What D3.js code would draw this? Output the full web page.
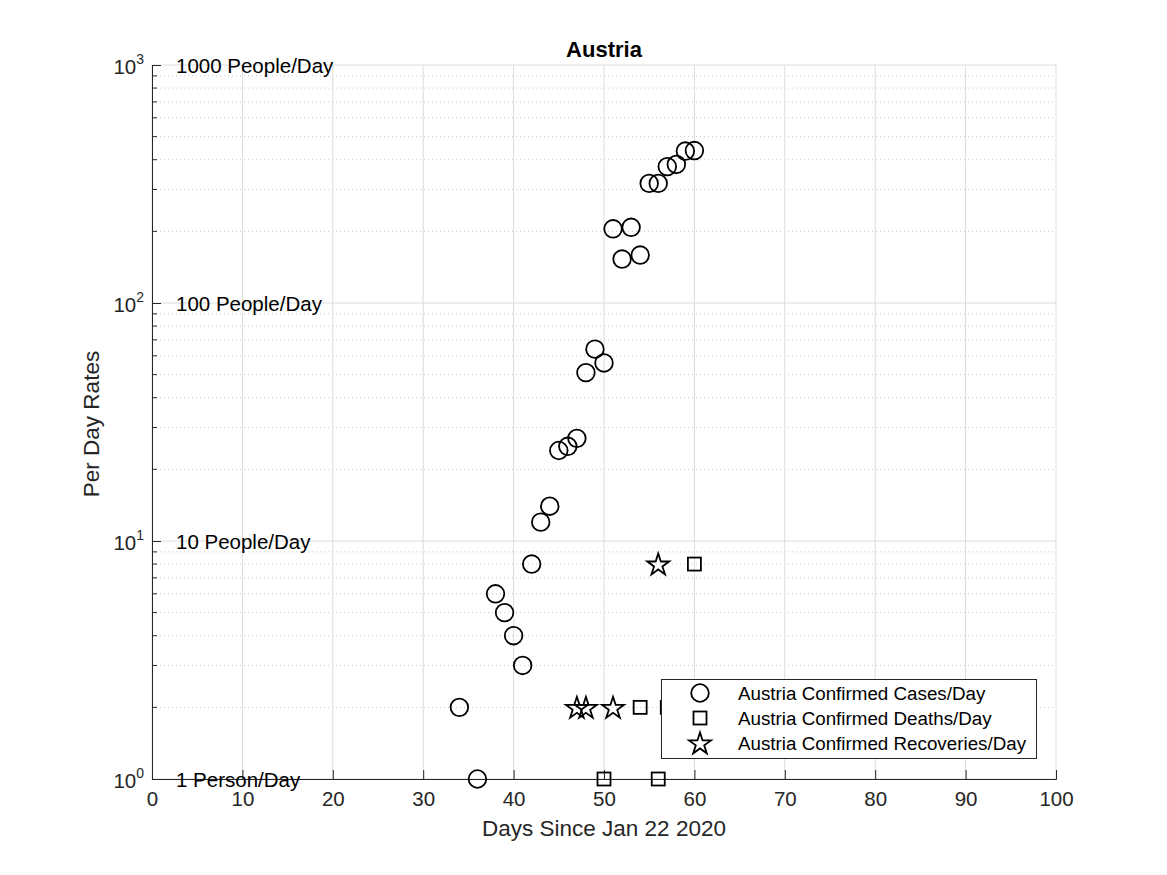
<!DOCTYPE html>
<html><head><meta charset="utf-8">
<script src="https://cdn.jsdelivr.net/npm/d3@7"></script>
<style>body{margin:0;background:#fff;} text{font-family:"Liberation Sans",Arial,Helvetica,sans-serif;}</style>
</head><body>
<svg id="c" width="1167" height="875"></svg>
<script>
const casesDays = [34,36,38,39,40,41,42,43,44,45,46,47,48,49,50,51,52,53,54,55,56,57,58,59,60];
const casesVals = [2,1,6,5,4,3,8,12,14,24,25,27,51,64,56,205,153,208,159,318,318,374,382,435,437];
const deathsDays = [50,54,56,57,60];
const deathsVals = [1,2,1,2,8];
const recovDays = [47,48,51,56];
const recovVals = [2,2,2,8];
const xTicks = [0,10,20,30,40,50,60,70,80,90,100];
const yMajor = [1,10,100,1000];
const yExp = ["0","1","2","3"];
const annotations = ["1 Person/Day","10 People/Day","100 People/Day","1000 People/Day"];
const legendLabels = ["Austria Confirmed Cases/Day","Austria Confirmed Deaths/Day","Austria Confirmed Recoveries/Day"];

const svg = d3.select("#c");
const L=152, R=1056, T=65, B=779;
const x = d3.scaleLinear().domain([0,100]).range([L,R]);
const y = d3.scaleLog().domain([1,1000]).range([B,T]);

// minor grid
const minor=[];
for(let d=1; d<1000; d*=10) for(let k=2;k<=9;k++) minor.push(d*k);
svg.append("g").selectAll("line").data(minor).join("line")
  .attr("x1",L).attr("x2",R).attr("y1",d=>y(d)).attr("y2",d=>y(d))
  .attr("stroke","#c8c8c8").attr("stroke-width",1).attr("stroke-dasharray","1,3");
// major grid
svg.append("g").selectAll("line").data(xTicks).join("line")
  .attr("x1",d=>x(d)).attr("x2",d=>x(d)).attr("y1",T).attr("y2",B)
  .attr("stroke","#dcdcdc").attr("stroke-width",1);
svg.append("g").selectAll("line").data(yMajor).join("line")
  .attr("x1",L).attr("x2",R).attr("y1",d=>y(d)).attr("y2",d=>y(d))
  .attr("stroke","#dcdcdc").attr("stroke-width",1);

// axes
const xa = svg.append("g").attr("transform",`translate(0,${B})`)
  .call(d3.axisBottom(x).tickValues(xTicks).tickSize(-9).tickPadding(12).tickFormat(d3.format("d")));
xa.attr("font-size",null).attr("font-family",null);
xa.select(".domain").attr("stroke","#262626");
xa.selectAll(".tick line").attr("stroke","#262626");
xa.selectAll("text").style("font-size","20.5px").attr("fill","#262626").attr("dy","0.72em").attr("y",12);

const ya = svg.append("g").attr("transform",`translate(${L},0)`)
  .call(d3.axisLeft(y).tickValues(yMajor).tickSize(-9).tickFormat(""));
ya.select(".domain").attr("stroke","#262626");
ya.selectAll(".tick line").attr("stroke","#262626");
svg.append("g").selectAll("line").data(minor).join("line")
  .attr("x1",L).attr("x2",L+5).attr("y1",d=>y(d)).attr("y2",d=>y(d)).attr("stroke","#262626");

// y tick labels 10^n
const yl = svg.append("g").selectAll("text").data(yMajor).join("text")
  .attr("x",144).attr("y",d=>y(d)+9).attr("text-anchor","end")
  .style("font-size","20.5px").attr("fill","#262626");
yl.append("tspan").text("10");
yl.append("tspan").attr("dy",-10).style("font-size","14px").text((d,i)=>yExp[i]);

// annotations
svg.append("g").selectAll("text").data(yMajor).join("text")
  .attr("x",176).attr("y",d=>y(d)+8).style("font-size","20.5px").attr("fill","#000")
  .text((d,i)=>annotations[i]);

// title & labels
svg.append("text").attr("x",604).attr("y",57).attr("text-anchor","middle")
  .style("font-size","22px").attr("font-weight","bold").text("Austria");
svg.append("text").attr("x",604).attr("y",836).attr("text-anchor","middle")
  .style("font-size","22.5px").attr("fill","#262626").text("Days Since Jan 22 2020");
svg.append("text").attr("transform",`translate(99,${(T+B)/2+2}) rotate(-90)`).attr("text-anchor","middle")
  .style("font-size","22.5px").attr("fill","#262626").text("Per Day Rates");

const star = d3.symbol().type(d3.symbolStar).size(150);
const sq = 13;
function drawCircle(g,cx,cy){ g.append("circle").attr("cx",cx).attr("cy",cy).attr("r",8.8).attr("fill","none").attr("stroke","#000").attr("stroke-width",1.8); }
function drawSquare(g,cx,cy){ g.append("rect").attr("x",cx-sq/2).attr("y",cy-sq/2).attr("width",sq).attr("height",sq).attr("fill","none").attr("stroke","#000").attr("stroke-width",1.8); }
function drawStar(g,cx,cy){ g.append("path").attr("d",star()).attr("transform",`translate(${cx},${cy+1})`).attr("fill","none").attr("stroke","#000").attr("stroke-width",1.8); }

const pts = svg.append("g");
casesDays.forEach((d,i)=>drawCircle(pts,x(d),y(casesVals[i])));
deathsDays.forEach((d,i)=>drawSquare(pts,x(d),y(deathsVals[i])));
recovDays.forEach((d,i)=>drawStar(pts,x(d),y(recovVals[i])));

// legend
const lg = svg.append("g");
lg.append("rect").attr("x",661.5).attr("y",679.5).attr("width",375).attr("height",79)
  .attr("fill","#fff").attr("stroke","#262626").attr("stroke-width",1);
const rows=[693,718,743];
drawCircle(lg,700,rows[0]);
drawSquare(lg,700,rows[1]);
drawStar(lg,700,rows[2]);
lg.selectAll("text").data(legendLabels).join("text")
  .attr("x",738).attr("y",(d,i)=>rows[i]+7).style("font-size","18.8px").attr("fill","#000").text(d=>d);
</script>
</body></html>
